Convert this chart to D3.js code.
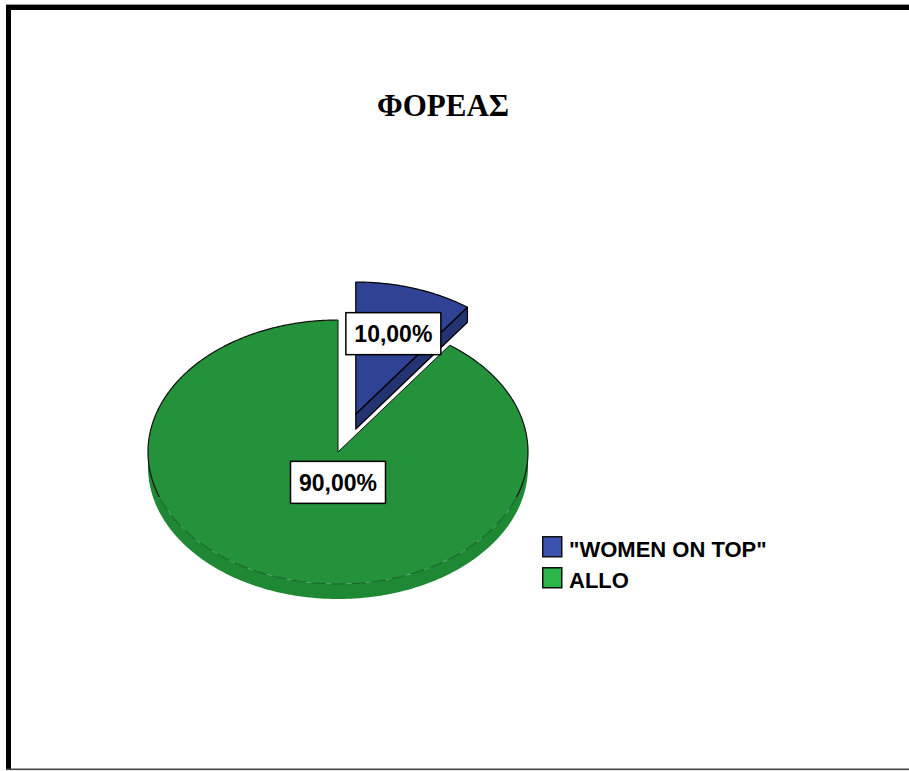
<!DOCTYPE html>
<html>
<head>
<meta charset="utf-8">
<script src="https://cdn.jsdelivr.net/npm/d3@7/dist/d3.min.js"></script>
<style>
  html, body { margin: 0; padding: 0; background: #fff; }
  svg { display: block; }
</style>
</head>
<body>
<svg id="chart" width="909" height="771"></svg>
<script>
// Chart data
const title = "ΦΟΡΕΑΣ";
const categories = ['"WOMEN ON TOP"', "ALLO"];
const percentages = [10, 90];
const exploded = [true, false];

// Styling
const topColors = ["#2f4293", "#24913b"];
const sideColors = ["#243371", "#1f8835"];
const legendColors = ["#3a52ad", "#2db64a"];

const W = 909, H = 771;
const svg = d3.select("#chart");

// Frame around the chart area
svg.append("rect").attr("x", 6).attr("y", 4).attr("width", W - 6).attr("height", 1).attr("fill", "#999");
svg.append("rect").attr("x", 6).attr("y", 5).attr("width", W - 6).attr("height", 5).attr("fill", "#000");
svg.append("rect").attr("x", 6).attr("y", 5).attr("width", 5).attr("height", 765).attr("fill", "#000");
svg.append("rect").attr("x", 6).attr("y", 768.5).attr("width", W - 6).attr("height", 1.6).attr("fill", "#444");

// Title
svg.append("text")
  .attr("x", 443).attr("y", 116)
  .attr("text-anchor", "middle")
  .attr("font-family", "'Liberation Serif', 'Times New Roman', serif")
  .attr("font-weight", "bold")
  .attr("font-size", 31)
  .text(title);

// 3D pie geometry
const cx = 338, cy = 452, rx = 190, ry = 132, depth = 15;
const tilt = ry / rx;
const explodeDist = 57.5;

const pie = d3.pie().sort(null).value(d => d);
const arcs = pie(percentages);

const fmt = d3.formatLocale({ decimal: ",", thousands: ".", grouping: [3], currency: ["", "€"] }).format(".2f");

// point on the top ellipse for angle a (0 = 12 o'clock, clockwise)
function pt(ox, oy, a, r = rx, dy = 0) {
  return [ox + r * Math.sin(a), oy - r * tilt * Math.cos(a) + dy];
}
function arcPoints(ox, oy, a0, a1, dy = 0) {
  const n = Math.max(2, Math.ceil(Math.abs(a1 - a0) / 0.01));
  return d3.range(n + 1).map(i => pt(ox, oy, a0 + (a1 - a0) * i / n, rx, dy));
}
const line = d3.line();

arcs.forEach((d, i) => {
  const mid = (d.startAngle + d.endAngle) / 2;
  const off = exploded[i] ? explodeDist : 0;
  d.ox = cx + off * Math.sin(mid);
  d.oy = cy - off * tilt * Math.cos(mid);
  d.mid = mid;
});

// draw the large slice first, then the exploded one on top
const order = [1, 0];
order.forEach(i => {
  const d = arcs[i];
  const g = svg.append("g");
  const a0 = d.startAngle, a1 = d.endAngle;

  // outer wall on the front half (angles between π/2 and 3π/2)
  const f0 = Math.max(a0, Math.PI / 2), f1 = Math.min(a1, 3 * Math.PI / 2);
  if (f1 > f0) {
    const topArc = arcPoints(d.ox, d.oy, f0, f1);
    const botArc = arcPoints(d.ox, d.oy, f1, f0, depth);
    g.append("path")
      .attr("d", line(topArc.concat(botArc)) + "Z")
      .attr("fill", sideColors[i]);
  }

  // radial cut face at the end angle, when it faces the viewer
  const endFacing = a1 < Math.PI;
  if (exploded[i] && endFacing) {
    const e = pt(d.ox, d.oy, a1);
    g.append("path")
      .attr("d", line([[d.ox, d.oy], e, [e[0], e[1] + depth], [d.ox, d.oy + depth]]) + "Z")
      .attr("fill", sideColors[i])
      .attr("stroke", "#000").attr("stroke-width", 1.2).attr("stroke-linejoin", "round");
  }

  // top face
  const topPts = [[d.ox, d.oy]].concat(arcPoints(d.ox, d.oy, a0, a1));
  g.append("path")
    .attr("d", line(topPts) + "Z")
    .attr("fill", topColors[i])
    .attr("stroke", exploded[i] ? "#000" : "none")
    .attr("stroke-width", 1.2)
    .attr("stroke-linejoin", "round");

  if (!exploded[i]) {
    // outline: radial edges and back rim in black, front rim dashed
    const backL = arcPoints(d.ox, d.oy, 3 * Math.PI / 2 - 0.35, a1);
    const backR = arcPoints(d.ox, d.oy, a0, Math.PI / 2 + 0.35);
    g.append("path")
      .attr("d", line([pt(d.ox, d.oy, a0), [d.ox, d.oy], pt(d.ox, d.oy, a1)]))
      .attr("fill", "none").attr("stroke", "#111").attr("stroke-width", 1);
    g.append("path").attr("d", line(backL)).attr("fill", "none").attr("stroke", "#111").attr("stroke-width", 1.2);
    g.append("path").attr("d", line(backR)).attr("fill", "none").attr("stroke", "#111").attr("stroke-width", 1.2);
    const front = arcPoints(d.ox, d.oy, Math.PI / 2 + 0.35, 3 * Math.PI / 2 - 0.35);
    g.append("path").attr("d", line(front))
      .attr("fill", "none").attr("stroke", "#186b2a").attr("stroke-width", 1.2)
      .attr("stroke-dasharray", "14,6");
  }
});

// value labels
const labelRadius = [0.64, 0.23];
arcs.forEach((d, i) => {
  const r = rx * labelRadius[i];
  const ang = exploded[i] ? d.mid : Math.PI;
  const p = pt(d.ox, d.oy, ang, r);
  const lg = svg.append("g").attr("transform", `translate(${p[0]},${p[1]})`);
  const boxW = 95, boxH = 42;
  lg.append("rect")
    .attr("x", -boxW / 2).attr("y", -boxH / 2)
    .attr("width", boxW).attr("height", boxH)
    .attr("fill", "#fff").attr("stroke", "#000").attr("stroke-width", 1.5);
  lg.append("text")
    .attr("x", 0).attr("y", 8.5)
    .attr("text-anchor", "middle")
    .attr("font-family", "'Liberation Sans', Arial, sans-serif")
    .attr("font-weight", "bold")
    .attr("font-size", 23)
    .text(fmt(d.data) + "%");
});

// legend
const legend = svg.append("g").attr("transform", "translate(542,536)");
categories.forEach((c, i) => {
  const row = legend.append("g").attr("transform", `translate(0,${i * 31})`);
  row.append("rect")
    .attr("x", 0.75).attr("y", 0.75).attr("width", 19).attr("height", 20)
    .attr("fill", legendColors[i]).attr("stroke", "#111").attr("stroke-width", 1.5);
  row.append("text")
    .attr("x", 27).attr("y", 21)
    .attr("font-family", "'Liberation Sans', Arial, sans-serif")
    .attr("font-weight", "bold")
    .attr("font-size", 22)
    .text(c);
});
</script>
</body>
</html>
